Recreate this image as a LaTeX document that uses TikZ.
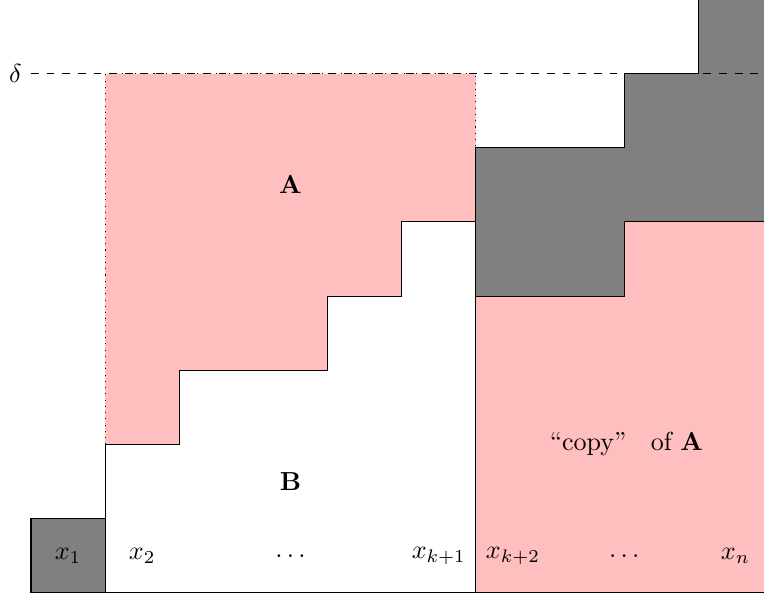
\documentclass[tikz,border=0pt]{standalone}
\begin{document}
\begin{tikzpicture}[x=1cm,y=1cm,
  pinkfill/.style={fill=pink},
  grayfill/.style={fill=gray},
  edge/.style={draw=black,line width=0.4pt},
  lbl/.style={inner sep=0pt}]
\clip (-0.418,-0.058) rectangle (9.885,7.993);
% region A (pink, dotted outer border)
\fill[pinkfill] (1,2) -- (1,7) -- (6,7) -- (6,5) -- (5,5) -- (5,4) -- (4,4) -- (4,3) -- (2,3) -- (2,2) -- cycle;
\draw[dotted] (1,2) -- (1,7) -- (6,7) -- (6,6);
% copy of A (pink)
\fill[pinkfill] (6,0) -- (6,4) -- (8,4) -- (8,5) -- (10,5) -- (10,0) -- cycle;
% gray block
\filldraw[grayfill,edge] (6,4) -- (6,6) -- (8,6) -- (8,7) -- (9,7) -- (9,8.5) -- (10.5,8.5) -- (10.5,5) -- (8,5) -- (8,4) -- cycle;
% B outline (staircase)
\draw[edge] (1,1) -- (1,2) -- (2,2) -- (2,3) -- (4,3) -- (4,4) -- (5,4) -- (5,5) -- (6,5) -- (6,0);
% x1 box
\filldraw[grayfill,edge] (0,0) rectangle (1,1);
% base line
\draw[edge] (0,0) -- (10.5,0);
% delta line
\node[left] (delta) at (0,7) {$\delta$};
\draw[dashed] (delta.east) -- (10.5,7);
% labels
\node (lA) at (3.5,5.5) {$\mathbf{A}$};
\node (lB) at (3.5,1.5) {$\mathbf{B}$};
\node (lcopy) at (8.03,2) {``copy''\hspace{6pt} of $\mathbf{A}$};
\node (l1) at (0.5,0.5) {$x_1$};
\node (l2) at (1.5,0.5) {$x_2$};
\node (ld1) at (3.5,0.5) {$\dots$};
\node (lk1) at (5.5,0.5) {$x_{k+1}$};
\node (lk2) at (6.5,0.5) {$x_{k+2}$};
\node (ld2) at (8,0.5) {$\dots$};
\node (ln) at (9.5,0.5) {$x_n$};
\end{tikzpicture}
\end{document}
